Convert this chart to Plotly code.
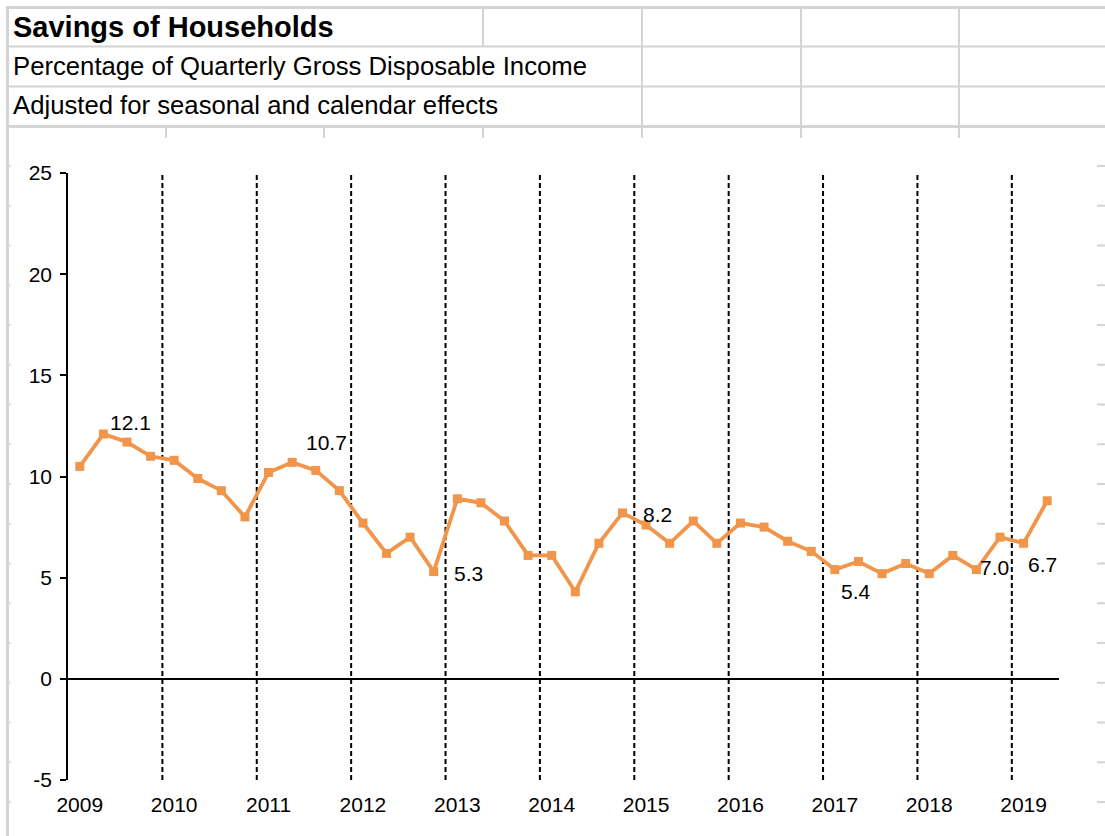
import plotly.graph_objects as go

# ---------------- data ----------------
years = ["2009", "2010", "2011", "2012", "2013", "2014", "2015", "2016", "2017", "2018", "2019"]
quarter_names = ["Q1", "Q2", "Q3", "Q4"]
quarters = [f"{y}-{q}" for y in years for q in quarter_names][:42]

savings_rate = [
    10.5, 12.1, 11.7, 11.0,
    10.8, 9.9, 9.3, 8.0,
    10.2, 10.7, 10.3, 9.3,
    7.7, 6.2, 7.0, 5.3,
    8.9, 8.7, 7.8, 6.1,
    6.1, 4.3, 6.7, 8.2,
    7.6, 6.7, 7.8, 6.7,
    7.7, 7.5, 6.8, 6.3,
    5.4, 5.8, 5.2, 5.7,
    5.2, 6.1, 5.4, 7.0,
    6.7, 8.8,
]

y_ticks = [-5, 0, 5, 10, 15, 20, 25]
y_tick_text = ["-5", "0", "5", "10", "15", "20", "25"]

labelled_quarters = ["2009-Q2", "2011-Q2", "2012-Q4", "2014-Q4", "2017-Q1", "2018-Q4", "2019-Q1"]
# label offsets in pixels (dx, dy) -- styling only
label_offsets = [(27, 12), (34, 20), (35, -2), (35, -2), (21, -22), (-6, -30), (19, -21)]

title_lines = ["Savings of Households",
               "Percentage of Quarterly Gross Disposable Income",
               "Adjusted for seasonal and calendar effects"]

# ---------------- layout geometry ----------------
W, H = 1105, 836
ML, MR, MT, MB = 68, 46, 173, 56
PW, PH = W - ML - MR, H - MT - MB
FONT = "Arial, 'Liberation Sans', sans-serif"
ORANGE = "#F0954A"
GRID = "#D4D4D4"


def px(x):
    return (x - ML) / PW


def py(y):
    return (H - MB - y) / PH


fig = go.Figure()
fig.add_trace(go.Scatter(
    x=quarters, y=savings_rate, mode="lines+markers",
    line=dict(color=ORANGE, width=3.8),
    marker=dict(symbol="square", size=9, color=ORANGE),
    hoverinfo="x+y", showlegend=False,
))

shapes = []
# yearly dashed separators
for k in range(1, len(years)):
    shapes.append(dict(type="line", xref="x", yref="y", x0=4 * k - 0.5, x1=4 * k - 0.5,
                       y0=-5, y1=25, line=dict(color="black", width=2, dash="5px,3px"),
                       layer="below"))

# spreadsheet grid around the chart object
def hline(y, x0, x1, w=2):
    shapes.append(dict(type="line", xref="paper", yref="paper", x0=px(x0), x1=px(x1),
                       y0=py(y), y1=py(y), line=dict(color=GRID, width=w)))


def vline(x, y0, y1, w=2):
    shapes.append(dict(type="line", xref="paper", yref="paper", x0=px(x), x1=px(x),
                       y0=py(y0), y1=py(y1), line=dict(color=GRID, width=w)))


hline(7.5, 6, W, 3)
hline(46.5, 8, W, 2)
hline(86.5, 8, W, 2)
hline(126.5, 8, W, 3)
vline(7.5, 6, H, 3)
for cx in [483, 642, 801, 959]:
    vline(cx, 8, 46)
for cx in [642, 801, 959]:
    vline(cx, 46, 126)
for cx in [166, 324, 483, 642, 801, 959]:
    vline(cx, 126, 138)
ry = 166.0
while ry < H:
    hline(ry, 8, 10.5, 2)
    hline(ry, 1097, W, 2)
    ry += 39.75

annotations = []
for i, (txt, fs, bold) in enumerate(zip(title_lines, [29, 25.7, 25.7], [True, False, False])):
    yc = [27, 66, 105][i]
    annotations.append(dict(xref="paper", yref="paper", x=px(11), y=py(yc), xanchor="left",
                            yanchor="middle", showarrow=False,
                            text=f"<b>{txt}</b>" if bold else txt,
                            font=dict(family=FONT, size=fs, color="black")))

for q, (dx, dy) in zip(labelled_quarters, label_offsets):
    v = savings_rate[quarters.index(q)]
    annotations.append(dict(x=q, y=v, xref="x", yref="y", text=f"{v:.1f}", showarrow=False,
                            xshift=dx, yshift=dy, xanchor="center", yanchor="middle",
                            font=dict(family=FONT, size=21, color="black")))

fig.update_layout(
    width=W, height=H,
    margin=dict(l=ML, r=MR, t=MT, b=MB, pad=0),
    paper_bgcolor="white", plot_bgcolor="white",
    font=dict(family=FONT, size=21, color="black"),
    shapes=shapes, annotations=annotations,
    xaxis=dict(type="category", range=[-0.5, len(quarters) - 0.5],
               tickvals=[f"{y}-Q1" for y in years], ticktext=years,
               showgrid=False, showline=False, ticks="", zeroline=False,
               ticklabelstandoff=10, tickfont=dict(size=21)),
    yaxis=dict(range=[-5, 25], tickvals=y_ticks, ticktext=y_tick_text,
               showgrid=False, showline=True, linecolor="black", linewidth=1.5,
               ticks="outside", ticklen=6, tickcolor="black", tickwidth=1.5,
               zeroline=True, zerolinecolor="black", zerolinewidth=2,
               tickfont=dict(size=21), ticklabelstandoff=4),
)

fig.write_html("out.html", config={"displayModeBar": False},
               post_script="document.body.style.margin='0';document.body.style.overflow='hidden';")
